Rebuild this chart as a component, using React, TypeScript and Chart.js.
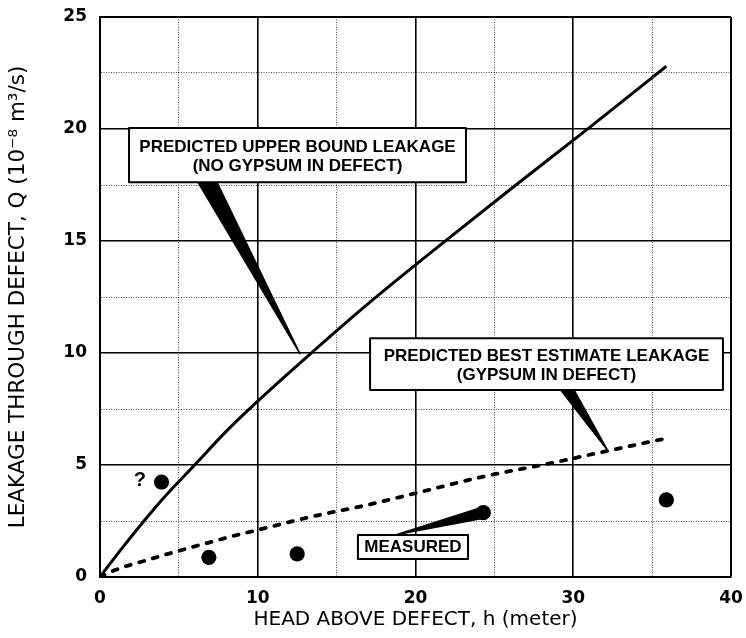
import React, { useEffect, useRef } from 'react';
import { Chart, registerables } from 'chart.js';

Chart.register(...registerables);

// ---- data ----
const upperHead = [0, 1.3, 4, 6, 8, 10, 13.4, 17, 21.8, 26, 31, 35.9];
const upperLeak = [0, 1.2, 3.5, 5.0, 6.5, 7.85, 10, 12.2, 14.95, 17.3, 20.05, 22.8];

const bestHead = [0, 1, 3.2, 4.75, 6.7, 8.5, 10.4, 13.2, 16.9, 20, 24.3, 28.5, 32.1, 35.9];
const bestLeak = [0, 0.32, 0.8, 1.12, 1.5, 1.84, 2.17, 2.66, 3.21, 3.74, 4.48, 5.07, 5.62, 6.19];

const measuredHead = [3.9, 6.9, 12.5, 24.3, 35.9];
const measuredLeak = [4.24, 0.88, 1.03, 2.87, 3.44];

const xTickLabels = [0, 10, 20, 30, 40];
const yTickLabels = [0, 5, 10, 15, 20, 25];

const xTitle = 'HEAD ABOVE DEFECT, h (meter)';
const yTitle = 'LEAKAGE THROUGH DEFECT, Q (10\u207B\u2078 m\u00B3/s)';

const calloutLines = [
  ['PREDICTED UPPER BOUND LEAKAGE', '(NO GYPSUM IN DEFECT)'],
  ['PREDICTED BEST ESTIMATE LEAKAGE', '(GYPSUM IN DEFECT)'],
  ['MEASURED'],
];

// ---- annotation placement (data units) ----
const calloutLayout = [
  {
    box: [1.84, 23.2, 17.62, 20.05],
    lineY: [19.17, 18.32],
    wedge: [[6.21, 17.62], [7.42, 17.62], [12.68, 9.96]],
  },
  {
    box: [17.12, 39.49, 8.35, 10.66],
    lineY: [9.87, 9.02],
    wedge: [[29.2, 8.35], [30.05, 8.35], [32.2, 5.63]],
  },
  {
    box: [16.35, 23.33, 0.8, 1.875],
    lineY: [1.34],
    wedge: [[18.83, 1.9], [23.98, 3.06], [24.3, 2.62]],
  },
];
const questionMark = { text: '?', x: 2.53, y: 4.33 };

const FONT = '"DejaVu Sans", "Liberation Sans", Arial, sans-serif';
const ANNO_FONT = '"Liberation Sans", Arial, Helvetica, sans-serif';

const calloutPlugin = {
  id: 'callouts',
  afterDatasetsDraw(chart: any) {
    const { ctx, scales } = chart;
    const xs = scales.x;
    const ys = scales.y;
    const px = (v: number) => xs.getPixelForValue(v);
    const py = (v: number) => ys.getPixelForValue(v);
    ctx.save();
    calloutLayout.forEach((c, idx) => {
      // pointer wedge
      ctx.beginPath();
      c.wedge.forEach(([wx, wy], i) => {
        if (i === 0) ctx.moveTo(px(wx), py(wy));
        else ctx.lineTo(px(wx), py(wy));
      });
      ctx.closePath();
      ctx.fillStyle = '#000';
      ctx.fill();
      ctx.lineWidth = 1.4;
      ctx.lineJoin = 'round';
      ctx.strokeStyle = '#000';
      ctx.stroke();
      // box
      const l = px(c.box[0]);
      const r = px(c.box[1]);
      const b = py(c.box[2]);
      const t = py(c.box[3]);
      ctx.fillStyle = '#fff';
      ctx.fillRect(l, t, r - l, b - t);
      ctx.lineWidth = 2;
      ctx.strokeStyle = '#000';
      ctx.strokeRect(l, t, r - l, b - t);
      // text
      ctx.fillStyle = '#000';
      ctx.font = `bold 17px ${ANNO_FONT}`;
      ctx.textAlign = 'center';
      ctx.textBaseline = 'middle';
      calloutLines[idx].forEach((txt, i) => {
        ctx.fillText(txt, (l + r) / 2, py(c.lineY[i]));
      });
    });
    ctx.font = `bold 20px ${ANNO_FONT}`;
    ctx.textAlign = 'center';
    ctx.textBaseline = 'middle';
    ctx.fillText(questionMark.text, px(questionMark.x), py(questionMark.y));
    ctx.restore();
  },
};

const isMajorX = (v: number) => xTickLabels.includes(v);
const isMajorY = (v: number) => yTickLabels.includes(v);

const zeroPadding = (s: any) => {
  s.paddingTop = 0;
  s.paddingBottom = 0;
  s.paddingLeft = 0;
  s.paddingRight = 0;
};

export default function App() {
  const ref = useRef<HTMLCanvasElement | null>(null);

  useEffect(() => {
    document.body.style.margin = '0';
    document.body.style.overflow = 'hidden';
    if (!ref.current) return;
    const chart = new Chart(ref.current, {
      type: 'scatter',
      data: {
        datasets: [
          {
            label: 'Predicted upper bound',
            data: upperHead.map((h, i) => ({ x: h, y: upperLeak[i] })),
            showLine: true,
            borderColor: '#000',
            borderWidth: 3,
            pointRadius: 0,
            cubicInterpolationMode: 'monotone',
            fill: false,
          } as any,
          {
            label: 'Predicted best estimate',
            data: bestHead.map((h, i) => ({ x: h, y: bestLeak[i] })),
            showLine: true,
            borderColor: '#000',
            borderWidth: 3.8,
            borderDash: [5, 9],
            borderCapStyle: 'round',
            pointRadius: 0,
            cubicInterpolationMode: 'monotone',
            fill: false,
          } as any,
          {
            label: 'Measured',
            data: measuredHead.map((h, i) => ({ x: h, y: measuredLeak[i] })),
            showLine: false,
            backgroundColor: '#000',
            borderColor: '#000',
            borderWidth: 0,
            pointRadius: 7.6,
          } as any,
        ],
      },
      options: {
        animation: false,
        responsive: true,
        maintainAspectRatio: false,
        layout: { padding: { top: 17, right: 15, left: 0, bottom: 0 } },
        plugins: {
          legend: { display: false },
          tooltip: { enabled: false },
        },
        scales: {
          x: {
            type: 'linear',
            min: 0,
            max: 40,
            afterFit: (s: any) => {
              s.height = 61;
              zeroPadding(s);
            },
            ticks: {
              stepSize: 5,
              autoSkip: false,
              maxRotation: 0,
              padding: 13,
              color: '#000',
              font: { family: FONT, size: 17, weight: 'bold', lineHeight: 1 },
              callback: (v: any) => (isMajorX(Number(v)) ? String(v) : ''),
            },
            grid: {
              drawTicks: false,
              color: (c: any) => (c.tick && isMajorX(c.tick.value) ? '#000' : 'rgba(0,0,0,0.7)'),
              lineWidth: (c: any) =>
                c.tick && c.tick.value === 40 ? 2 : c.tick && isMajorX(c.tick.value) ? 1.6 : 1,
            },
            border: {
              display: true,
              color: '#000',
              width: 2,
              dash: (c: any) => (c.tick && !isMajorX(c.tick.value) ? [1, 1.5] : []),
            },
            title: {
              display: true,
              text: xTitle,
              color: '#000',
              font: { family: FONT, size: 20, lineHeight: 1 },
              padding: { top: 0, bottom: 8.5 },
            },
          },
          y: {
            type: 'linear',
            min: 0,
            max: 25,
            afterFit: (s: any) => {
              s.width = 100;
              zeroPadding(s);
            },
            ticks: {
              stepSize: 2.5,
              autoSkip: false,
              padding: 13,
              color: '#000',
              font: { family: FONT, size: 17, weight: 'bold', lineHeight: 1 },
              callback: (v: any) => (isMajorY(Number(v)) ? String(v) : ''),
            },
            grid: {
              drawTicks: false,
              color: (c: any) => (c.tick && isMajorY(c.tick.value) ? '#000' : 'rgba(0,0,0,0.7)'),
              lineWidth: (c: any) =>
                c.tick && c.tick.value === 25 ? 2 : c.tick && isMajorY(c.tick.value) ? 1.6 : 1,
            },
            border: {
              display: true,
              color: '#000',
              width: 2,
              dash: (c: any) => (c.tick && !isMajorY(c.tick.value) ? [1, 1.5] : []),
            },
            title: {
              display: true,
              text: yTitle,
              color: '#000',
              font: { family: FONT, size: 21.5, lineHeight: 1 },
              padding: { top: 7.75, bottom: 0 },
            },
          },
        },
      } as any,
      plugins: [calloutPlugin],
    });
    return () => chart.destroy();
  }, []);

  return (
    <div style={{ width: 746, height: 638, position: 'relative', background: '#fff' }}>
      <canvas ref={ref} />
    </div>
  );
}
